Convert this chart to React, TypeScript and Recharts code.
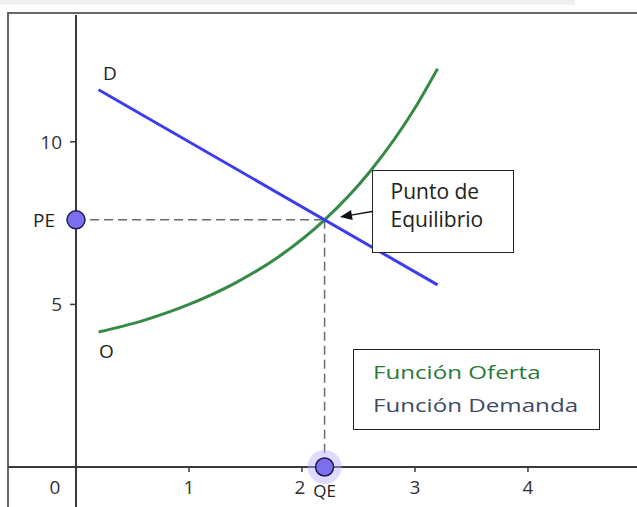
import {
  ComposedChart,
  Line,
  XAxis,
  YAxis,
  ReferenceLine,
  ReferenceDot,
} from "recharts";

// Oferta (O): curva creciente
const supplyQ = [0.2, 0.6, 1.0, 1.4, 1.8, 2.2, 2.6, 3.0, 3.2];
const supplyP = [4.15, 4.51, 5.0, 5.64, 6.48, 7.6, 9.08, 11.04, 12.25];

// Demanda (D): recta decreciente
const demandQ = [0.2, 3.2];
const demandP = [11.6, 5.6];

const xTicks = [0, 1, 2, 3, 4];
const yTicks = [5, 10];

const QE = 2.2;
const PE = 7.6;

const supplyData = supplyQ.map((q, i) => ({ q, p: supplyP[i] }));
const demandData = demandQ.map((q, i) => ({ q, p: demandP[i] }));

const FONT = "'Open Sans', 'DejaVu Sans', sans-serif";
const AXIS = "#3a3a3a";

function XTick({ x, y, payload }: any) {
  // el cero va a la izquierda del eje vertical
  const dx = payload.value === 0 ? -21 : payload.value === 2 ? -2 : 0;
  return (
    <text
      x={x + dx}
      y={y + 13}
      textAnchor="middle"
      dominantBaseline="central"
      fill="#333"
      fontSize={19}
      fontFamily={FONT}
    >
      {payload.value}
    </text>
  );
}

function YTick({ x, y, payload }: any) {
  return (
    <text
      x={x - 6}
      y={y}
      textAnchor="end"
      dominantBaseline="central"
      fill="#333"
      fontSize={19}
      fontFamily={FONT}
    >
      {payload.value}
    </text>
  );
}

const labelStyle = { fill: "#222", fontSize: 19, fontFamily: FONT };

export default function App() {
  return (
    <div
      style={{
        position: "absolute",
        left: 0,
        top: 0,
        width: 637,
        height: 507,
        overflow: "hidden",
        background: "#fff",
        fontFamily: FONT,
      }}
    >
      <div
        style={{
          position: "absolute",
          left: 0,
          top: 0,
          width: 575,
          height: 5,
          background: "#efefef",
        }}
      />
      <div
        style={{
          position: "absolute",
          left: 7,
          top: 12,
          width: 700,
          height: 600,
          border: "2.5px solid #676767",
        }}
      />
      <div style={{ position: "absolute", left: 0, top: 0 }}>
        <ComposedChart
          width={637}
          height={507}
          margin={{ top: 15, right: 0, bottom: 0, left: 9 }}
        >
          <XAxis
            type="number"
            dataKey="q"
            domain={[0, 4.965]}
            ticks={xTicks}
            interval={0}
            allowDataOverflow
            height={40}
            axisLine={{ stroke: AXIS, strokeWidth: 2 }}
            tickLine={{ stroke: AXIS, strokeWidth: 1.5 }}
            tickSize={5}
            tick={<XTick />}
          />
          <YAxis
            type="number"
            dataKey="p"
            domain={[0, 13.9]}
            ticks={yTicks}
            interval={0}
            allowDataOverflow
            width={67}
            axisLine={{ stroke: AXIS, strokeWidth: 2 }}
            tickLine={{ stroke: AXIS, strokeWidth: 1.5 }}
            tickSize={6}
            tick={<YTick />}
          />

          {/* prolongación de los ejes fuera del cuadrante */}
          <ReferenceLine
            segment={[
              { x: -0.6, y: 0 },
              { x: 0, y: 0 },
            ]}
            stroke={AXIS}
            strokeWidth={2}
            ifOverflow="visible"
          />
          <ReferenceLine
            segment={[
              { x: 0, y: 0 },
              { x: 0, y: -1.4 },
            ]}
            stroke={AXIS}
            strokeWidth={2}
            ifOverflow="visible"
          />

          <ReferenceLine
            segment={[
              { x: 0, y: PE },
              { x: QE, y: PE },
            ]}
            stroke="#6b6b6b"
            strokeWidth={1.5}
            strokeDasharray="9 5"
            ifOverflow="visible"
          />
          <ReferenceLine
            segment={[
              { x: QE, y: PE },
              { x: QE, y: 0 },
            ]}
            stroke="#6b6b6b"
            strokeWidth={1.5}
            strokeDasharray="9 5"
            ifOverflow="visible"
          />

          <Line
            data={supplyData}
            dataKey="p"
            type="monotone"
            stroke="#358a45"
            strokeWidth={3}
            dot={false}
            isAnimationActive={false}
          />
          <Line
            data={demandData}
            dataKey="p"
            type="linear"
            stroke="#3c3cf0"
            strokeWidth={3}
            dot={false}
            isAnimationActive={false}
          />

          <ReferenceDot
            x={0.3}
            y={12.1}
            r={0}
            ifOverflow="visible"
            label={{ value: "D", position: "center", ...labelStyle }}
          />
          <ReferenceDot
            x={0.27}
            y={3.55}
            r={0}
            ifOverflow="visible"
            label={{ value: "O", position: "center", ...labelStyle }}
          />

          <ReferenceDot
            x={0}
            y={PE}
            r={9}
            fill="#7b6ff0"
            stroke="#1c1c4c"
            strokeWidth={1.5}
            ifOverflow="visible"
            label={{ value: "PE", position: "left", offset: 12, ...labelStyle }}
          />
          <ReferenceDot
            x={QE}
            y={0}
            r={17}
            fill="#b7adff"
            fillOpacity={0.45}
            stroke="none"
            ifOverflow="visible"
          />
          <ReferenceDot
            x={QE}
            y={0}
            r={9}
            fill="#7b6ff0"
            stroke="#1c1c4c"
            strokeWidth={1.5}
            ifOverflow="visible"
            label={{
              value: "QE",
              position: "bottom",
              offset: 9,
              ...labelStyle,
              fontSize: 17,
            }}
          />
        </ComposedChart>
      </div>

      <div
        style={{
          position: "absolute",
          left: 372,
          top: 170,
          width: 142,
          height: 83,
          boxSizing: "border-box",
          border: "1.5px solid #222",
          background: "#fff",
          padding: "5.5px 0 0 17.5px",
          fontSize: 21,
          lineHeight: "28px",
          color: "#222",
        }}
      >
        <div>Punto de</div>
        <div>Equilibrio</div>
      </div>

      <svg
        width={637}
        height={507}
        style={{ position: "absolute", left: 0, top: 0, pointerEvents: "none" }}
      >
        <line x1={372} y1={211.5} x2={351} y2={215.2} stroke="#111" strokeWidth={1.3} />
        <polygon points="340,217 352.7,219.9 351,210.1" fill="#111" />
      </svg>

      <div
        style={{
          position: "absolute",
          left: 353,
          top: 349,
          width: 247,
          height: 81,
          boxSizing: "border-box",
          border: "1.5px solid #222",
          background: "#fff",
          padding: "5.5px 0 0 18.5px",
          fontSize: 19,
          lineHeight: "33px",
          whiteSpace: "nowrap",
        }}
      >
        <div style={{ color: "#2a7a38", transform: "scaleX(1.27)", transformOrigin: "left" }}>
          Función Oferta
        </div>
        <div style={{ color: "#3e4a66", transform: "scaleX(1.27)", transformOrigin: "left" }}>
          Función Demanda
        </div>
      </div>
    </div>
  );
}
